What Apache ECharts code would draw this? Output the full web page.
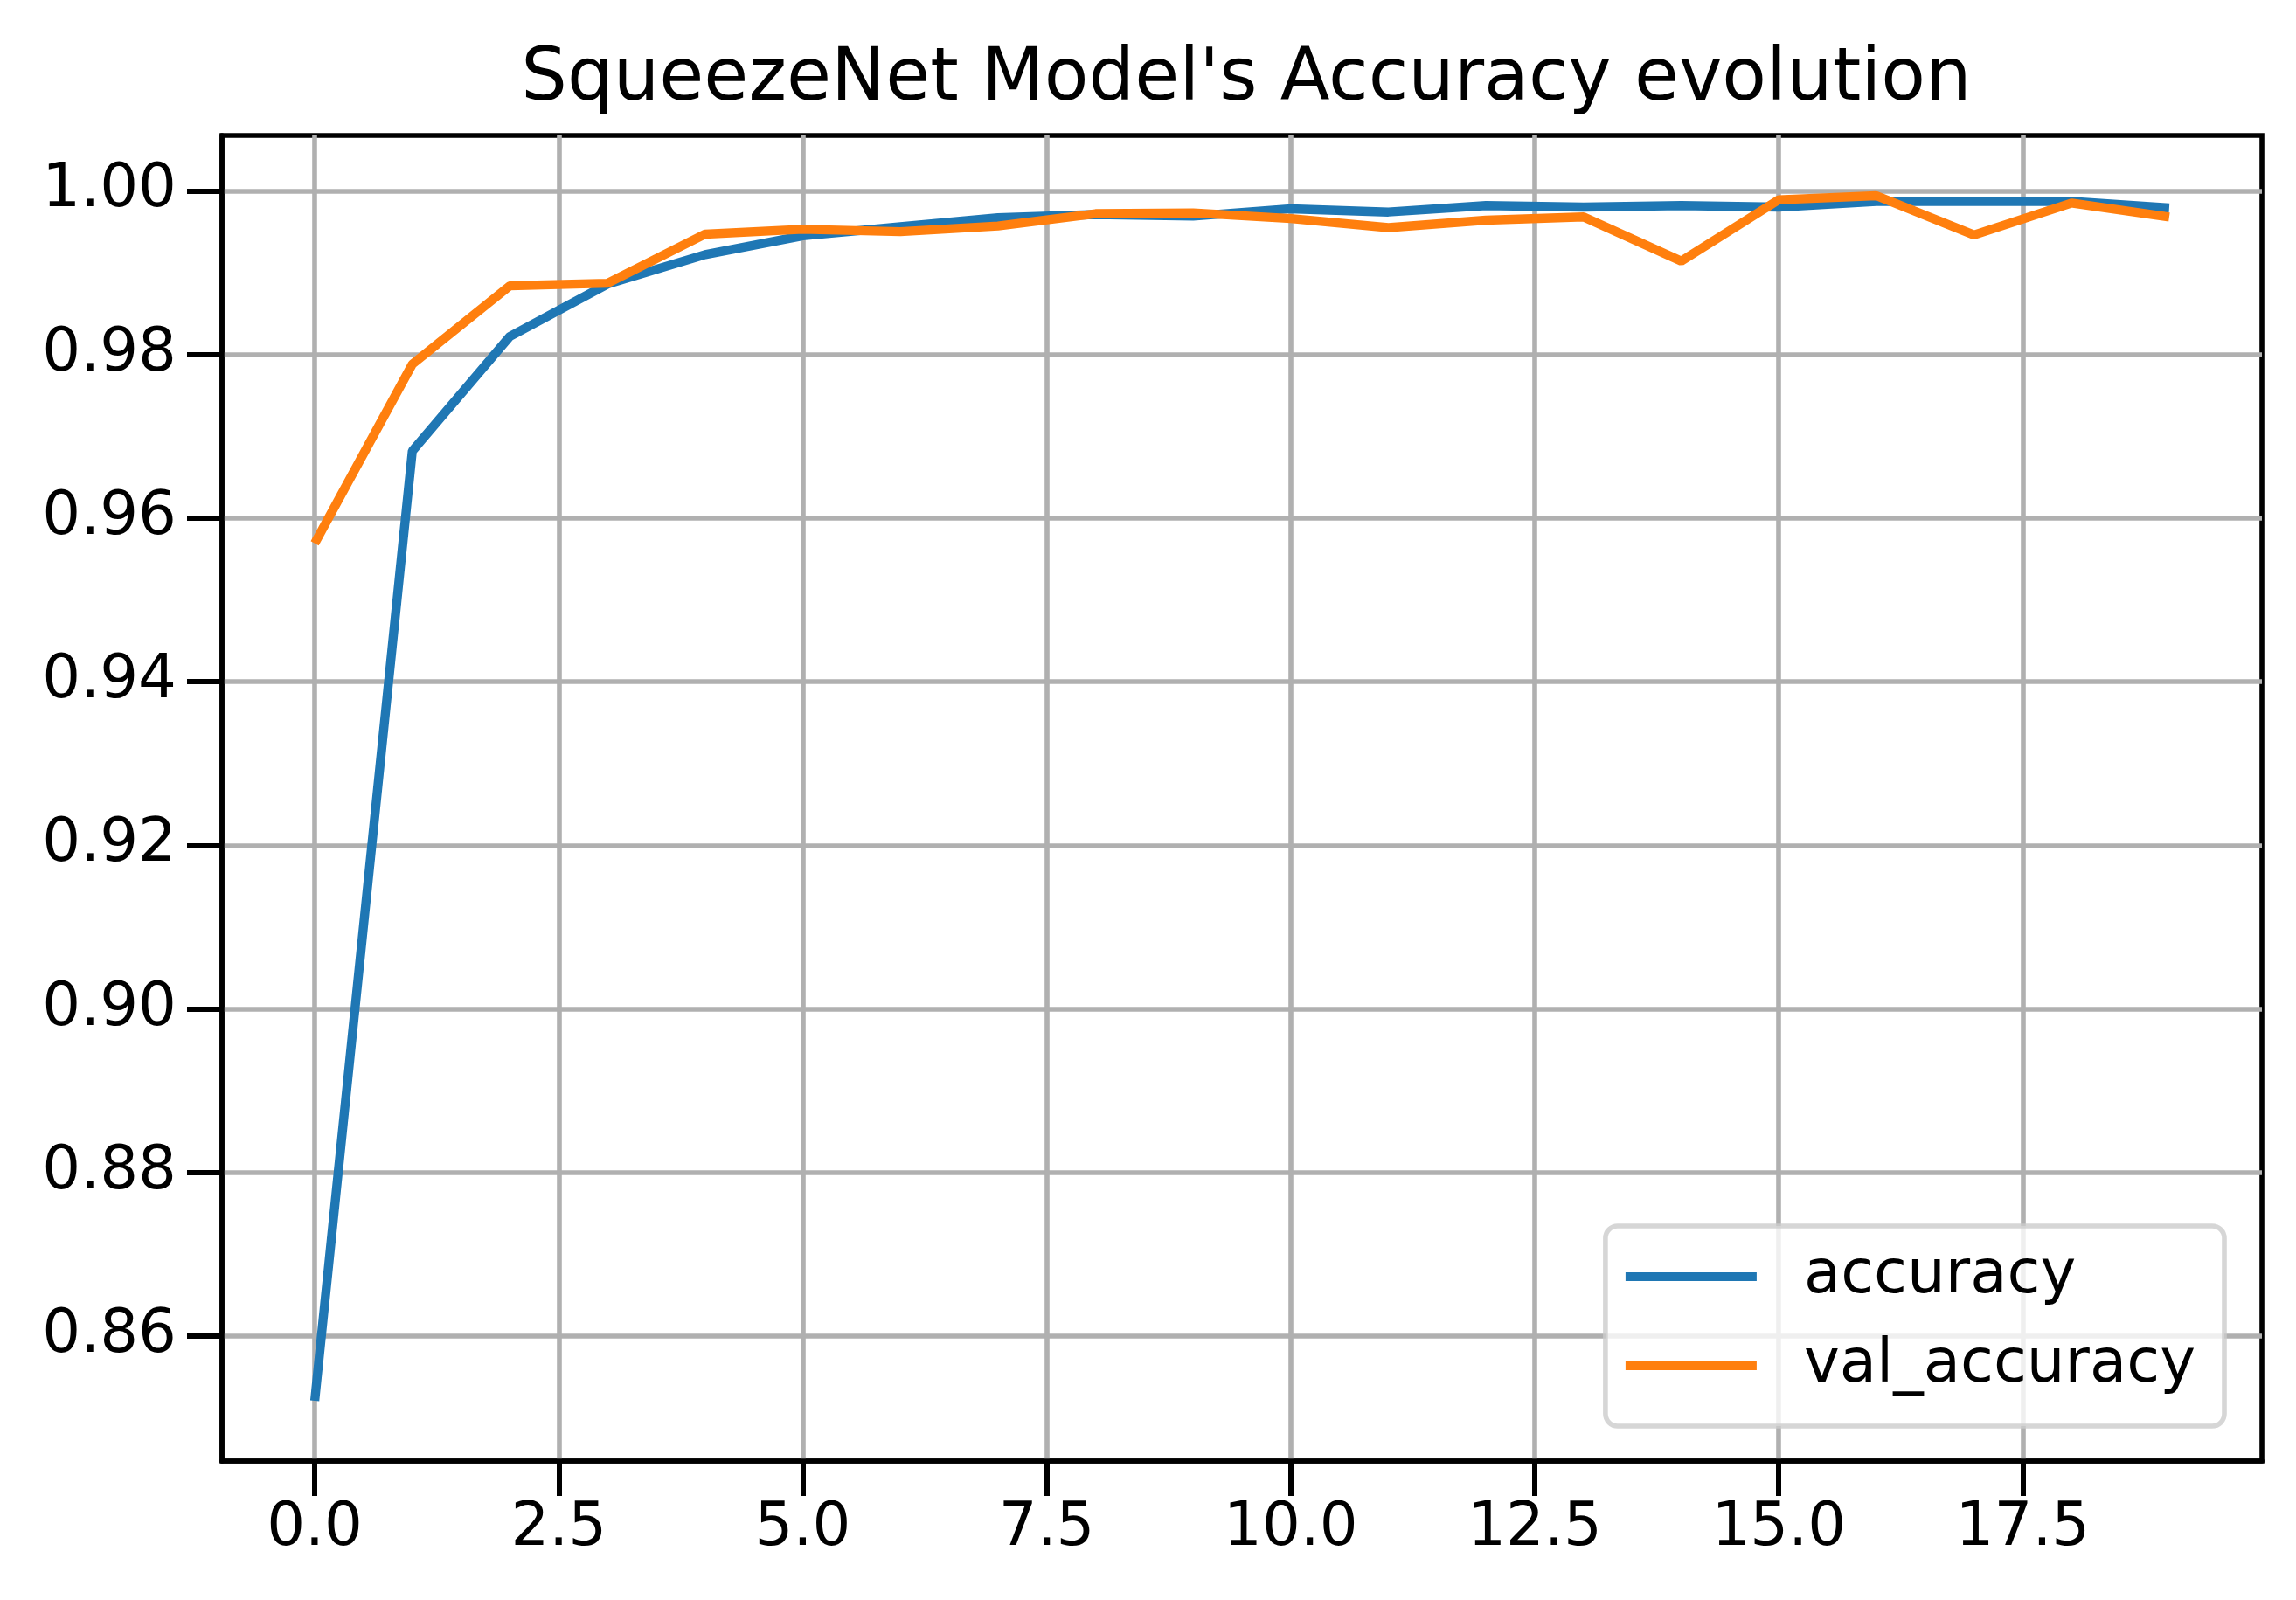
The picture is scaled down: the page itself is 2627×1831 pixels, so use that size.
<!DOCTYPE html>
<html>
<head>
<meta charset="utf-8">
<script src="https://cdn.jsdelivr.net/npm/echarts@6/dist/echarts.min.js"></script>
<style>
  html, body { margin: 0; padding: 0; background: #fff; }
  #chart { width: 2627px; height: 1831px; }
</style>
</head>
<body>
<div id="chart"></div>
<script>
const epochs = [0, 1, 2, 3, 4, 5, 6, 7, 8, 9, 10, 11, 12, 13, 14, 15, 16, 17, 18, 19];
const accuracy = [0.8521, 0.9682, 0.9822, 0.9886, 0.9922, 0.9945, 0.9956, 0.9967, 0.9971, 0.9969,
                  0.9978, 0.9974, 0.9982, 0.9980, 0.9982, 0.9980, 0.9987, 0.9987, 0.9987, 0.9979];
const valAccuracy = [0.9569, 0.9788, 0.9884, 0.9887, 0.9947, 0.9953, 0.9950, 0.9957, 0.9972, 0.9973,
                     0.9966, 0.9955, 0.9964, 0.9968, 0.9914, 0.9989, 0.9994, 0.9946, 0.9985, 0.9968];
const xTicks = [0, 2.5, 5, 7.5, 10, 12.5, 15, 17.5];
const yTicks = [0.86, 0.88, 0.90, 0.92, 0.94, 0.96, 0.98, 1.00];

const font = 'DejaVu Sans';
const pair = (ys) => epochs.map((x, i) => [x, ys[i]]);

// matplotlib style 5% margins
const xSpan = epochs[epochs.length - 1] - epochs[0];
const allY = accuracy.concat(valAccuracy);
const yLo = Math.min(...allY), yHi = Math.max(...allY);
const ySpan = yHi - yLo;

const gridLeft = 254, gridRight = 39, width = 2627;
const tick = { show: true, inside: false, length: 40, lineStyle: { color: '#000', width: 6 } };

const chart = echarts.init(document.getElementById('chart'));
chart.setOption({
  animation: false,
  backgroundColor: '#fff',
  title: {
    text: "SqueezeNet Model's Accuracy evolution",
    left: gridLeft + (width - gridLeft - gridRight) / 2,
    textAlign: 'center',
    top: 46,
    textStyle: { fontFamily: font, fontSize: 83, fontWeight: 'normal', color: '#000' }
  },
  grid: {
    left: gridLeft, right: gridRight, top: 155, bottom: 159,
    show: true, borderColor: '#000', borderWidth: 5.6
  },
  xAxis: {
    type: 'value',
    min: epochs[0] - 0.05 * xSpan,
    max: epochs[epochs.length - 1] + 0.05 * xSpan,
    axisLine: { show: true, onZero: false, lineStyle: { color: '#000', width: 5.6 } },
    axisTick: { ...tick, customValues: xTicks },
    axisLabel: {
      customValues: xTicks, margin: 44,
      fontFamily: font, fontSize: 69, color: '#000',
      formatter: (v) => v.toFixed(1)
    },
    splitLine: { show: true, lineStyle: { color: '#b0b0b0', width: 5.6 } }
  },
  yAxis: {
    type: 'value',
    min: yLo - 0.05 * ySpan,
    max: yHi + 0.05 * ySpan,
    axisLine: { show: true, onZero: false, lineStyle: { color: '#000', width: 5.6 } },
    axisTick: { ...tick, customValues: yTicks },
    axisLabel: {
      customValues: yTicks, margin: 52,
      fontFamily: font, fontSize: 69, color: '#000',
      formatter: (v) => v.toFixed(2)
    },
    splitLine: { show: true, lineStyle: { color: '#b0b0b0', width: 5.6 } }
  },
  legend: {
    orient: 'vertical',
    right: 82,
    bottom: 199,
    padding: [18, 33, 29, 23],
    itemGap: 22,
    itemWidth: 150,
    itemHeight: 10,
    icon: 'rect',
    backgroundColor: 'rgba(255,255,255,0.8)',
    borderColor: 'rgba(204,204,204,0.8)',
    borderWidth: 5.6,
    borderRadius: 14,
    textStyle: { fontFamily: font, fontSize: 69, color: '#000', lineHeight: 80, padding: [0, 0, 0, 49] },
    data: ['accuracy', 'val_accuracy']
  },
  series: [
    {
      name: 'accuracy', type: 'line', data: pair(accuracy),
      showSymbol: false, symbol: 'none',
      lineStyle: { color: '#1f77b4', width: 10.4 }, itemStyle: { color: '#1f77b4' }
    },
    {
      name: 'val_accuracy', type: 'line', data: pair(valAccuracy),
      showSymbol: false, symbol: 'none',
      lineStyle: { color: '#ff7f0e', width: 10.4 }, itemStyle: { color: '#ff7f0e' }
    }
  ]
});
</script>
</body>
</html>
